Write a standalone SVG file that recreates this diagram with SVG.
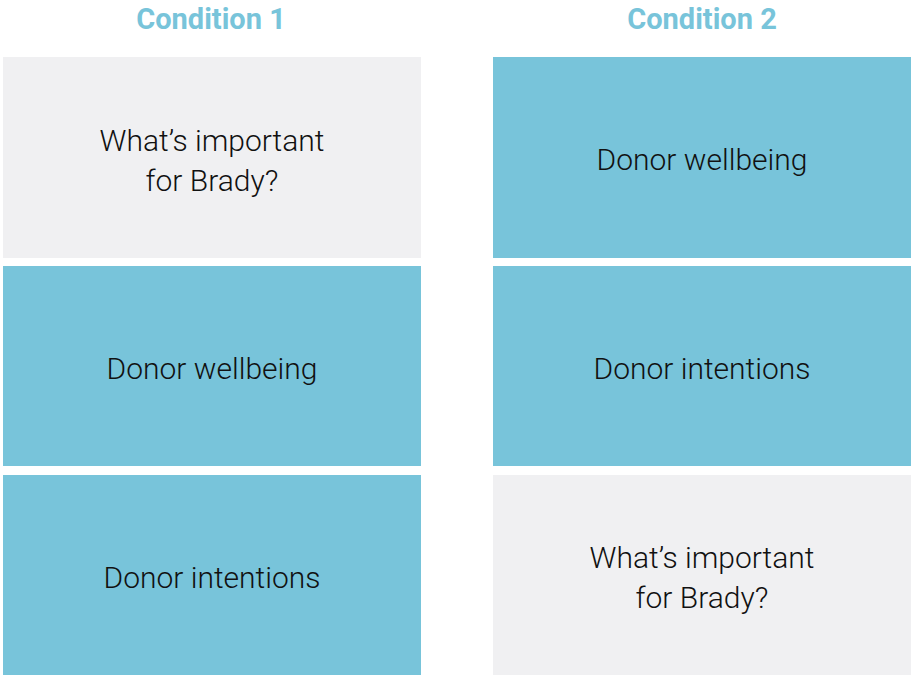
<svg xmlns="http://www.w3.org/2000/svg" width="911" height="677" viewBox="0 0 911 677">
<style>
.title{font-family:Roboto,"Liberation Sans",sans-serif;font-weight:bold;font-size:29px;fill:#78c4da;text-anchor:middle}
.lbl{font-family:Roboto,"Liberation Sans",sans-serif;font-weight:300;font-size:30px;fill:#111;text-anchor:middle}
.g{fill:#f0f0f2}
.b{fill:#78c4da}
</style>
<rect width="911" height="677" fill="#fff"/>
<text class="title" x="211" y="29">Condition 1</text>
<text class="title" x="702" y="29">Condition 2</text>
<g id="c1-what">
<rect class="g" x="3" y="57" width="418" height="201"/>
<text class="lbl" x="212" y="151">What’s important</text>
<text class="lbl" x="212" y="191">for Brady?</text>
</g>
<g id="c1-wellbeing">
<rect class="b" x="3" y="266" width="418" height="200"/>
<text class="lbl" x="212" y="379">Donor wellbeing</text>
</g>
<g id="c1-intentions">
<rect class="b" x="3" y="475" width="418" height="200"/>
<text class="lbl" x="212" y="588">Donor intentions</text>
</g>
<g id="c2-wellbeing">
<rect class="b" x="493" y="57" width="418" height="201"/>
<text class="lbl" x="702" y="170">Donor wellbeing</text>
</g>
<g id="c2-intentions">
<rect class="b" x="493" y="266" width="418" height="200"/>
<text class="lbl" x="702" y="379">Donor intentions</text>
</g>
<g id="c2-what">
<rect class="g" x="493" y="475" width="418" height="200"/>
<text class="lbl" x="702" y="568">What’s important</text>
<text class="lbl" x="702" y="608">for Brady?</text>
</g>
<g id="connectors"></g>
</svg>
